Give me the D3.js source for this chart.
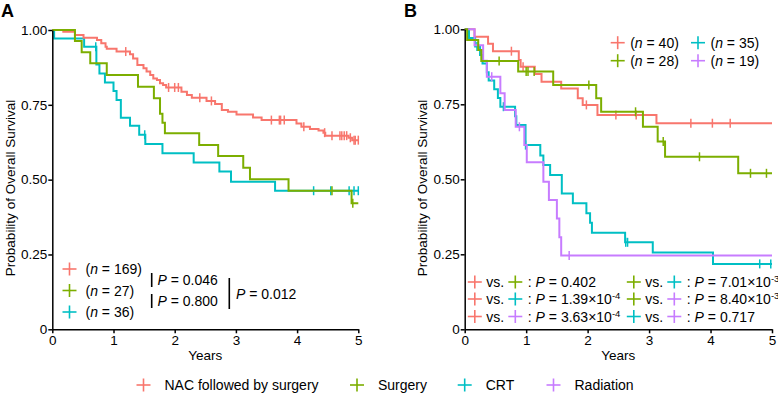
<!DOCTYPE html>
<html lang="en">
<head>
  <meta charset="UTF-8">
  <title>Overall survival by treatment</title>
  <style>
      body { margin: 0; background: #fff; }
      svg { font-family: "Liberation Sans", Arial, sans-serif; }
      .axis path, .axis line { stroke: #000; stroke-width: 1.5px; }
      .axis text { font-size: 13.5px; fill: #000; }
      .curve { fill: none; stroke-width: 2px; }
      .censor { stroke-width: 1.5px; }
  </style>
</head>
<body>
<div id="chart"></div>
<script src="https://d3js.org/d3.v7.min.js"></script>
<script>
  // ---- data: [years, survival] steps, censor times ----
  const yearTicks = [0, 1, 2, 3, 4, 5];
  const survTicks = [0, 0.25, 0.5, 0.75, 1];
  const survTickLabels = ["0", "0.25", "0.50", "0.75", "1.00"];

  const groupNames = ["NAC followed by surgery", "Surgery", "CRT", "Radiation"];
  const groupColors = ["#F8766D", "#7CAE00", "#00BFC4", "#C77CFF"];

  // panel A
  const nacStepsA = [[0.18,0.994],[0.37,0.983],[0.51,0.974],[0.73,0.967],[0.80,0.956],[0.87,0.944],
    [0.89,0.937],[1.05,0.928],[1.27,0.919],[1.32,0.905],[1.39,0.883],[1.49,0.872],[1.54,0.861],
    [1.60,0.850],[1.65,0.838],[1.71,0.833],[1.76,0.822],[1.81,0.816],[1.86,0.808],[2.11,0.794],
    [2.20,0.783],[2.28,0.774],[2.52,0.763],[2.66,0.753],[2.77,0.733],[2.87,0.727],[3.01,0.718],
    [3.28,0.708],[3.42,0.699],[3.99,0.688],[4.07,0.677],[4.21,0.669],[4.35,0.664],[4.43,0.657],
    [4.46,0.647],[4.84,0.640],[4.90,0.632]];
  const nacCensorA = [1.20,1.90,2.00,2.06,2.41,2.60,3.58,3.71,3.73,3.79,4.11,4.45,4.57,4.70,4.73,
    4.77,4.81,4.87,4.93,4.95,5.0];
  const surgStepsA = [[0.37,0.963],[0.48,0.926],[0.62,0.889],[0.89,0.850],[1.40,0.810],[1.66,0.772],
    [1.76,0.720],[1.80,0.690],[1.84,0.655],[2.40,0.616],[2.71,0.579],[3.12,0.540],[3.23,0.501],
    [3.86,0.463],[4.89,0.421]];
  const surgCensorA = [4.57, 4.91];
  const crtStepsA = [[0.03,0.972],[0.52,0.944],[0.72,0.885],[0.77,0.855],[0.86,0.825],[1.00,0.796],
    [1.05,0.766],[1.12,0.707],[1.27,0.680],[1.42,0.650],[1.52,0.619],[1.80,0.588],[2.31,0.557],
    [2.73,0.527],[2.92,0.493],[3.64,0.463]];
  const crtCensorA = [0.71,1.51,4.27,4.55,4.85,4.93,5.0];
  const countsA = [169, 27, 36];
  const pValuesA = ["0.046", "0.800", "0.012"];

  // panel B
  const nacStepsB = [[0.16,0.975],[0.38,0.952],[0.46,0.927],[0.88,0.898],[0.91,0.875],[1.14,0.851],
    [1.25,0.825],[1.57,0.803],[1.84,0.770],[1.92,0.748],[2.16,0.714],[3.12,0.687]];
  const nacCensorB = [0.76,0.95,1.98,2.46,2.79,3.68,4.03,4.32];
  const surgStepsB = [[0.04,0.964],[0.22,0.931],[0.27,0.894],[0.87,0.859],[1.44,0.814],[2.14,0.770],
    [2.22,0.725],[2.90,0.675],[3.14,0.626],[3.26,0.575],[4.45,0.520]];
  const surgCensorB = [0.56,1.00,1.03,1.13,2.02,2.78,3.23,3.82,4.65,4.91];
  const crtStepsB = [[0.07,0.971],[0.17,0.943],[0.25,0.914],[0.29,0.886],[0.36,0.857],[0.39,0.829],
    [0.48,0.800],[0.54,0.771],[0.58,0.742],[0.82,0.710],[0.84,0.681],[0.99,0.614],[1.23,0.579],
    [1.28,0.548],[1.39,0.514],[1.58,0.453],[1.76,0.420],[1.98,0.387],[2.04,0.355],[2.07,0.322],
    [2.61,0.290],[3.06,0.256],[4.04,0.218]];
  const crtCensorB = [0.20,0.63,0.99,2.62,2.65,4.80,4.98];
  const radStepsB = [[0.16,0.947],[0.30,0.895],[0.36,0.842],[0.58,0.787],[0.65,0.731],[0.83,0.675],
    [0.97,0.614],[1.01,0.557],[1.28,0.492],[1.37,0.431],[1.50,0.369],[1.54,0.307],[1.57,0.246]];
  const radCensorB = [0.44,0.89,1.70];
  const countsB = [40, 28, 35, 19];
  const pairsB = [[0,1],[0,2],[0,3],[1,2],[1,3],[2,3]];
  const pValuesB = [["0.402"],["1.39","-4"],["3.63","-4"],["7.01","-3"],["8.40","-3"],["0.717"]];

  const W = 778, H = 393;
  const svg = d3.select("#chart").append("svg")
    .attr("width", W)
    .attr("height", H);

  function survAt(steps, t) {
    let s = 1;
    steps.forEach(d => { if (d[0] <= t) s = d[1]; });
    return s;
  }

  function crossMark(g, cx, cy, color) {
    g.append("line").attr("x1", cx - 7).attr("x2", cx + 7).attr("y1", cy).attr("y2", cy)
      .attr("stroke", color).attr("stroke-width", 1.6);
    g.append("line").attr("x1", cx).attr("x2", cx).attr("y1", cy - 6.5).attr("y2", cy + 6.5)
      .attr("stroke", color).attr("stroke-width", 1.6);
  }

  function drawPanel(opt) {
    const x = d3.scaleLinear().domain([0, 5]).range(opt.xRange);
    const y = d3.scaleLinear().domain([0, 1]).range([329.3, opt.yTop]);
    const g = svg.append("g");

    const line = d3.line().x(d => x(d[0])).y(d => y(d[1])).curve(d3.curveStepAfter);

    opt.curves.forEach(c => {
      const pts = [[0, 1]].concat(c.steps);
      pts.push([5, c.steps[c.steps.length - 1][1]]);
      g.append("path").attr("class", "curve").attr("stroke", groupColors[c.group]).attr("d", line(pts));
      g.selectAll(null).data(c.censor).enter().append("line")
        .attr("class", "censor")
        .attr("stroke", groupColors[c.group])
        .attr("x1", d => x(d)).attr("x2", d => x(d))
        .attr("y1", d => y(survAt(c.steps, d)) - 4.5)
        .attr("y2", d => y(survAt(c.steps, d)) + 4.5);
    });

    g.append("g").attr("class", "axis")
      .attr("transform", `translate(0,${y(0)})`)
      .call(d3.axisBottom(x).tickValues(yearTicks).tickFormat(d3.format("d"))
        .tickSize(4).tickSizeOuter(0).tickPadding(2));

    g.append("g").attr("class", "axis")
      .attr("transform", `translate(${x(0)},0)`)
      .call(d3.axisLeft(y).tickValues(survTicks).tickFormat((d, i) => survTickLabels[i])
        .tickSize(4).tickSizeOuter(0).tickPadding(1));

    g.append("text")
      .attr("x", (opt.xRange[0] + opt.xRange[1]) / 2)
      .attr("y", 360)
      .attr("text-anchor", "middle")
      .style("font-size", "13.5px")
      .text("Years");

    g.append("text")
      .attr("transform", `translate(${opt.yLabelX},188) rotate(-90)`)
      .attr("text-anchor", "middle")
      .attr("dy", "0.35em")
      .style("font-size", "13.5px")
      .text("Probability of Overall Survival");

    g.append("text")
      .attr("x", opt.letterX)
      .attr("y", 17)
      .style("font-size", "18px")
      .style("font-weight", "bold")
      .text(opt.letter);

    return g;
  }

  // ---- panel A ----
  const gA = drawPanel({
    xRange: [52.3, 358.3], yTop: 30, yLabelX: 10, letterX: 1, letter: "A",
    curves: [
      {group: 2, steps: crtStepsA, censor: crtCensorA},
      {group: 0, steps: nacStepsA, censor: nacCensorA},
      {group: 1, steps: surgStepsA, censor: surgCensorA}
    ]
  });

  const rowsA = [269, 290.5, 312];
  countsA.forEach((n, i) => {
    crossMark(gA, 69.5, rowsA[i], groupColors[i]);
    const t = gA.append("text").attr("x", 85.5).attr("y", rowsA[i]).attr("dy", "0.36em")
      .style("font-size", "14px");
    t.append("tspan").text("(");
    t.append("tspan").style("font-style", "italic").text("n");
    t.append("tspan").text(` = ${n})`);
  });

  function pText(g, px, py, val) {
    const t = g.append("text").attr("x", px).attr("y", py).attr("dy", "0.36em").style("font-size", "14px");
    t.append("tspan").style("font-style", "italic").text("P");
    t.append("tspan").text(` = ${val}`);
  }
  gA.append("line").attr("x1", 151.7).attr("x2", 151.7).attr("y1", 273).attr("y2", 287)
    .attr("stroke", "#000").attr("stroke-width", 1.6);
  gA.append("line").attr("x1", 151.7).attr("x2", 151.7).attr("y1", 294).attr("y2", 308)
    .attr("stroke", "#000").attr("stroke-width", 1.6);
  gA.append("line").attr("x1", 229.3).attr("x2", 229.3).attr("y1", 278).attr("y2", 309)
    .attr("stroke", "#000").attr("stroke-width", 1.6);
  pText(gA, 157.5, 280, pValuesA[0]);
  pText(gA, 157.5, 300.5, pValuesA[1]);
  pText(gA, 236, 293.5, pValuesA[2]);

  // ---- panel B ----
  const gB = drawPanel({
    xRange: [464.7, 772], yTop: 29.3, yLabelX: 422, letterX: 404, letter: "B",
    curves: [
      {group: 0, steps: nacStepsB, censor: nacCensorB},
      {group: 2, steps: crtStepsB, censor: crtCensorB},
      {group: 3, steps: radStepsB, censor: radCensorB},
      {group: 1, steps: surgStepsB, censor: surgCensorB}
    ]
  });

  const legB = [[617.7, 42.7], [617.7, 60.7], [698, 42.7], [698, 60.7]];
  const legBorder = [0, 1, 2, 3];
  legBorder.forEach(i => {
    const [cx, cy] = legB[i];
    crossMark(gB, cx, cy, groupColors[i]);
    const t = gB.append("text").attr("x", cx + 12.5).attr("y", cy).attr("dy", "0.36em")
      .style("font-size", "14px");
    t.append("tspan").text("(");
    t.append("tspan").style("font-style", "italic").text("n");
    t.append("tspan").text(` = ${countsB[i]})`);
  });

  const rowsB = [282, 299, 316.5];
  const colsB = [474.8, 633.8];
  pairsB.forEach((pr, k) => {
    const col = colsB[Math.floor(k / 3)], cy = rowsB[k % 3];
    crossMark(gB, col, cy, groupColors[pr[0]]);
    gB.append("text").attr("x", col + 11.5).attr("y", cy).attr("dy", "0.36em")
      .style("font-size", "14px").text("vs.");
    crossMark(gB, col + 40.5, cy, groupColors[pr[1]]);
    const t = gB.append("text").attr("x", col + 53).attr("y", cy).attr("dy", "0.36em")
      .style("font-size", "14px");
    t.append("tspan").text(": ");
    t.append("tspan").style("font-style", "italic").text("P");
    const v = pValuesB[k];
    if (v.length === 1) {
      t.append("tspan").text(` = ${v[0]}`);
    } else {
      t.append("tspan").text(` = ${v[0]}\u00d710`);
      t.append("tspan").attr("dy", "-5").style("font-size", "9.5px").text(v[1]);
    }
  });

  // ---- shared legend ----
  const legX = [143.5, 357, 464.7, 553.5];
  groupNames.forEach((name, i) => {
    crossMark(svg, legX[i], 385, groupColors[i]);
    svg.append("text").attr("x", legX[i] + 21).attr("y", 385).attr("dy", "0.36em")
      .style("font-size", "14px").text(name);
  });
</script>
</body>
</html>
